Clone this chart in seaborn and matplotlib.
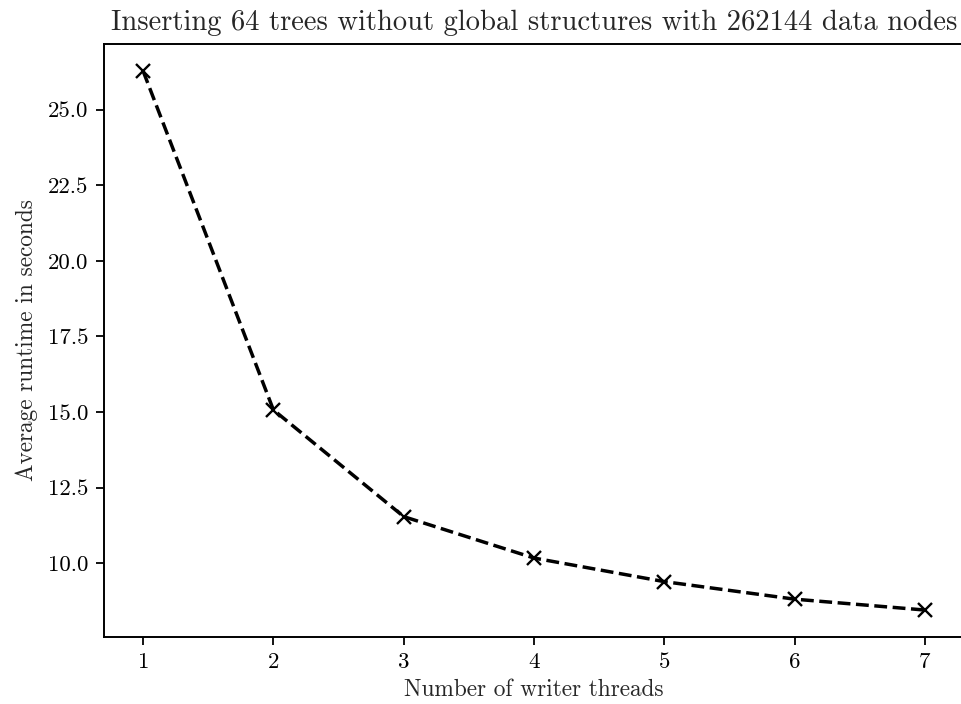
import matplotlib
matplotlib.use("Agg")
import matplotlib.pyplot as plt
import seaborn as sns
import pandas as pd

threads = [1, 2, 3, 4, 5, 6, 7]
runtime = [26.28, 15.07, 11.54, 10.17, 9.39, 8.81, 8.45]

sns.set_style("ticks")
plt.rcParams["font.family"] = ["serif"]
plt.rcParams["font.serif"] = ["cmr10"]
plt.rcParams["mathtext.fontset"] = "cm"
plt.rcParams["axes.formatter.use_mathtext"] = True
plt.rcParams["axes.unicode_minus"] = False

df = pd.DataFrame({"threads": threads, "runtime": runtime})

fig = plt.figure(figsize=(9.62, 7.04), dpi=100)
ax = fig.add_axes([104 / 962, 1 - 637 / 704, 860 / 962, (637 - 44) / 704])

sns.lineplot(data=df, x="threads", y="runtime", ax=ax, color="black",
             linestyle="--", linewidth=2.5, marker="x", markersize=10,
             markeredgewidth=1.7, markeredgecolor="black")

ax.set_yticks([10.0, 12.5, 15.0, 17.5, 20.0, 22.5, 25.0])
ax.set_yticklabels(["10.0", "12.5", "15.0", "17.5", "20.0", "22.5", "25.0"])
ax.set_xticks(threads)
ax.tick_params(labelsize=16.5, length=6, width=1.3, pad=5, colors="black")
for s in ax.spines.values():
    s.set_linewidth(1.4)
    s.set_color("black")

ax.set_xlabel("Number of writer threads", fontsize=16.8, labelpad=5)
ax.set_ylabel("Average runtime in seconds", fontsize=16.8, labelpad=7)
ax.set_title("Inserting 64 trees without global structures with 262144 data nodes",
             fontsize=20.6, pad=10)

fig.savefig("out.png", dpi=100)
